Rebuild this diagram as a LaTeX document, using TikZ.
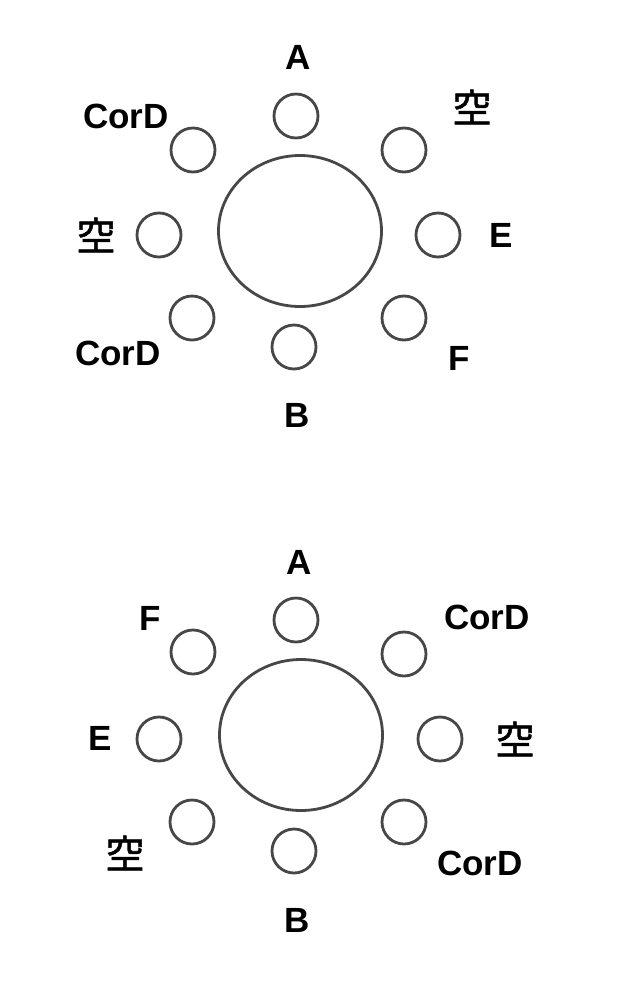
\documentclass[tikz,border=0pt]{standalone}
\usepackage{fontspec}
\setmainfont{Liberation Sans}
\newfontfamily\jpfont[FakeBold=1.5]{Noto Sans CJK JP}
\usetikzlibrary{shapes.geometric}

\begin{document}
\begin{tikzpicture}[x=1pt, y=-1pt,
  roundtable/.style={draw=black!72, line width=2.8pt, ellipse, minimum width=163pt, minimum height=151pt, inner sep=0pt},
  seat/.style={draw=black!72, line width=2.8pt, circle, minimum size=44pt, inner sep=0pt},
  lbl/.style={inner sep=0pt, font=\bfseries\fontsize{35}{40}\selectfont},
  kara/.style={inner sep=0pt, font=\jpfont\fontsize{39}{44}\selectfont}
]
\useasboundingbox (0,0) rectangle (622,999);

% upper table
\node[roundtable] (tabA) at (300,231) {};
\node[seat] (sA1) at (296,116) {};
\node[seat] (sA2) at (404,150) {};
\node[seat] (sA3) at (438,235) {};
\node[seat] (sA4) at (404,318) {};
\node[seat] (sA5) at (294,347) {};
\node[seat] (sA6) at (192,318) {};
\node[seat] (sA7) at (159,235) {};
\node[seat] (sA8) at (193,150) {};

\node[lbl] (lA1) at (298,57) {A};
\node[kara] (lA2) at (472,107) {空};
\node[lbl] (lA3) at (501,235) {E};
\node[lbl] (lA4) at (459,358) {F};
\node[lbl] (lA5) at (297,415) {B};
\node[lbl] (lA6) at (118,353) {CorD};
\node[kara] (lA7) at (96,235) {空};
\node[lbl] (lA8) at (126,116) {CorD};

% lower table
\node[roundtable] (tabB) at (301,735) {};
\node[seat] (sB1) at (296,620) {};
\node[seat] (sB2) at (404,654) {};
\node[seat] (sB3) at (440,739) {};
\node[seat] (sB4) at (404,822) {};
\node[seat] (sB5) at (294,851) {};
\node[seat] (sB6) at (192,822) {};
\node[seat] (sB7) at (159,739) {};
\node[seat] (sB8) at (193,652) {};

\node[lbl] (lB1) at (299,562) {A};
\node[lbl] (lB2) at (487,617) {CorD};
\node[kara] (lB3) at (515,739) {空};
\node[lbl] (lB4) at (480,863) {CorD};
\node[lbl] (lB5) at (297,920) {B};
\node[kara] (lB6) at (125,853) {空};
\node[lbl] (lB7) at (100,738) {E};
\node[lbl] (lB8) at (150,618) {F};
\end{tikzpicture}
\end{document}
